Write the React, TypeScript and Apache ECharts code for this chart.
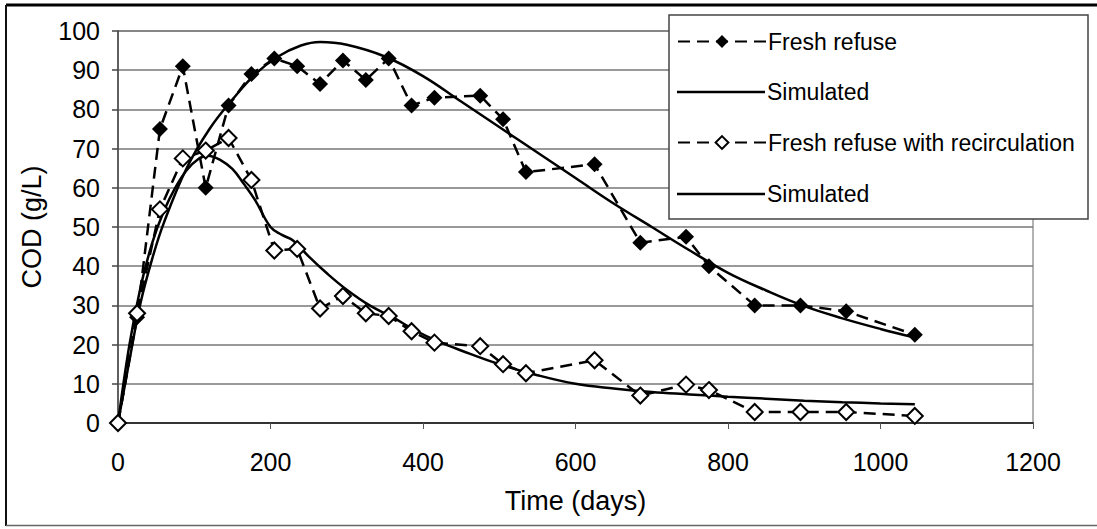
import React, { useEffect, useRef } from "react";
import * as echarts from "echarts";

// Measured data: fresh refuse (filled diamonds)
const freshDays = [0, 25, 55, 85, 115, 145, 175, 205, 235, 265, 295, 325, 355, 385, 415, 475, 505, 535, 625, 685, 745, 775, 835, 895, 955, 1045];
const freshCOD = [0, 27, 75, 91, 60, 81, 89, 93, 91, 86.5, 92.5, 87.5, 93, 81, 83, 83.5, 77.5, 64, 66, 46, 47.5, 40, 30, 30, 28.5, 22.5];

// Measured data: fresh refuse with recirculation (open diamonds)
const recDays = [0, 25, 55, 85, 115, 145, 175, 205, 235, 265, 295, 325, 355, 385, 415, 475, 505, 535, 625, 685, 745, 775, 835, 895, 955, 1045];
const recCOD = [0, 28, 54.5, 67.5, 69.5, 72.7, 62, 44, 44.4, 29.2, 32.4, 28, 27.3, 23.4, 20.5, 19.6, 15, 12.7, 16, 7, 9.8, 8.4, 2.8, 2.8, 2.8, 1.8];

// Simulated curves
const simFreshDays = [0, 15, 30, 45, 60, 90, 120, 150, 180, 210, 240, 265, 300, 350, 400, 450, 500, 550, 600, 650, 700, 750, 800, 850, 900, 950, 1000, 1045];
const simFreshCOD = [0, 16, 31, 42, 51, 65, 75, 82.5, 89, 93.5, 96.3, 97.2, 96.5, 93.5, 88.5, 82, 75.5, 69, 62.5, 56, 50, 44, 38.3, 33.8, 29.8, 26.7, 24, 21.8];

const simRecDays = [0, 15, 30, 45, 60, 75, 90, 105, 118, 135, 150, 165, 180, 200, 215, 230, 250, 275, 300, 330, 360, 390, 420, 450, 500, 550, 600, 650, 700, 750, 800, 850, 900, 950, 1000, 1045];
const simRecCOD = [0, 20, 35, 46, 54, 60, 64.5, 67.3, 68.2, 67, 64.8, 61, 56.8, 50, 48, 46.5, 42.5, 38, 34, 30, 27, 23.6, 20.8, 18.5, 15, 12.2, 10, 8.8, 7.9, 7.3, 6.7, 6.2, 5.7, 5.3, 5, 4.8];

const xTicks = { min: 0, max: 1200, interval: 200 };
const yTicks = { min: 0, max: 100, interval: 10 };

const legendNames = ["Fresh refuse", "Simulated", "Fresh refuse with recirculation", "Simulated"];

const FONT = "'Liberation Sans', Arial, Helvetica, sans-serif";

const pairs = (xs: number[], ys: number[]) => xs.map((x, i) => [x, ys[i]]);

export default function App() {
  const ref = useRef<HTMLDivElement>(null);
  useEffect(() => {
    if (!ref.current) return;
    const chart = echarts.init(ref.current, null, { renderer: "svg" });
    const rowCenters = [41, 91, 142, 193];
    const legends = legendNames.map((name, i) => {
      const isSim = name === "Simulated";
      const h = isSim ? 2.5 : 16;
      return {
        data: [name],
        left: 677,
        top: rowCenters[i] - (isSim ? 10.5 : 11),
        orient: "vertical",
        padding: 0,
        itemWidth: 88,
        itemHeight: h,
        icon: isSim ? "rect" : undefined,
        selectedMode: false,
        z: 20,
        textStyle: { fontSize: 23, color: "#000", fontFamily: FONT, padding: [0, 0, 0, -3] },
      };
    });
    chart.setOption({
      animation: false,
      backgroundColor: "#fff",
      textStyle: { fontFamily: FONT },
      grid: { left: 118, top: 31, right: 64, bottom: 106, show: true, borderColor: "#666", borderWidth: 1 },
      legend: legends,
      graphic: [
        { type: "line", shape: { x1: 6, y1: 5, x2: 1097, y2: 5 }, style: { stroke: "#000", lineWidth: 3 }, z: 30 },
        { type: "line", shape: { x1: 6, y1: 5, x2: 6, y2: 526 }, style: { stroke: "#111", lineWidth: 2 }, z: 30 },
        { type: "line", shape: { x1: 6, y1: 525.5, x2: 1097, y2: 525.5 }, style: { stroke: "#666", lineWidth: 1.5 }, z: 30 },
        {
          type: "rect",
          shape: { x: 669, y: 15, width: 419, height: 204 },
          style: { fill: "#fff", stroke: "#444", lineWidth: 1.5 },
          z: 10,
        },
      ],
      xAxis: {
        type: "value",
        min: xTicks.min,
        max: xTicks.max,
        interval: xTicks.interval,
        name: "Time (days)",
        nameLocation: "middle",
        nameGap: 64,
        nameTextStyle: { fontSize: 27, color: "#000", fontFamily: FONT },
        axisLine: { show: true, lineStyle: { color: "#333", width: 2 } },
        axisTick: { show: true, length: 6, lineStyle: { color: "#555", width: 1 } },
        axisLabel: { fontSize: 25, color: "#000", margin: 26, fontFamily: FONT, formatter: (v: number) => String(v) },
        splitLine: { show: false },
      },
      yAxis: {
        type: "value",
        min: yTicks.min,
        max: yTicks.max,
        interval: yTicks.interval,
        name: "COD (g/L)",
        nameLocation: "middle",
        nameGap: 73,
        nameTextStyle: { fontSize: 27, color: "#000", fontFamily: FONT },
        axisLine: { show: true, lineStyle: { color: "#444", width: 1.5 } },
        axisTick: { show: true, length: 6, lineStyle: { color: "#444", width: 1.5 } },
        axisLabel: { fontSize: 25, color: "#000", margin: 18, fontFamily: FONT },
        splitLine: { show: true, lineStyle: { color: "#777", width: 1.5 } },
      },
      series: [
        {
          name: "Simulated",
          type: "line",
          data: pairs(simFreshDays, simFreshCOD),
          smooth: 0.4,
          symbol: "none",
          color: "#000",
          lineStyle: { color: "#000", width: 2.5 },
          z: 3,
        },
        {
          name: "Simulated",
          type: "line",
          data: pairs(simRecDays, simRecCOD),
          smooth: 0.4,
          symbol: "none",
          color: "#000",
          lineStyle: { color: "#000", width: 2.5 },
          z: 3,
        },
        {
          name: "Fresh refuse",
          type: "line",
          data: pairs(freshDays, freshCOD),
          symbol: "diamond",
          symbolSize: 16,
          color: "#000",
          itemStyle: { color: "#000" },
          lineStyle: { color: "#000", width: 2.5, type: [12, 7] },
          z: 4,
        },
        {
          name: "Fresh refuse with recirculation",
          type: "line",
          data: pairs(recDays, recCOD),
          symbol: "diamond",
          symbolSize: 16,
          color: "#000",
          itemStyle: { color: "#fff", borderColor: "#000", borderWidth: 2 },
          lineStyle: { color: "#000", width: 2.5, type: [12, 7] },
          z: 5,
        },
      ],
    });
    return () => chart.dispose();
  }, []);
  return (
    <div
      ref={ref}
      style={{ position: "fixed", left: 0, top: 0, width: 1097, height: 529 }}
    />
  );
}
